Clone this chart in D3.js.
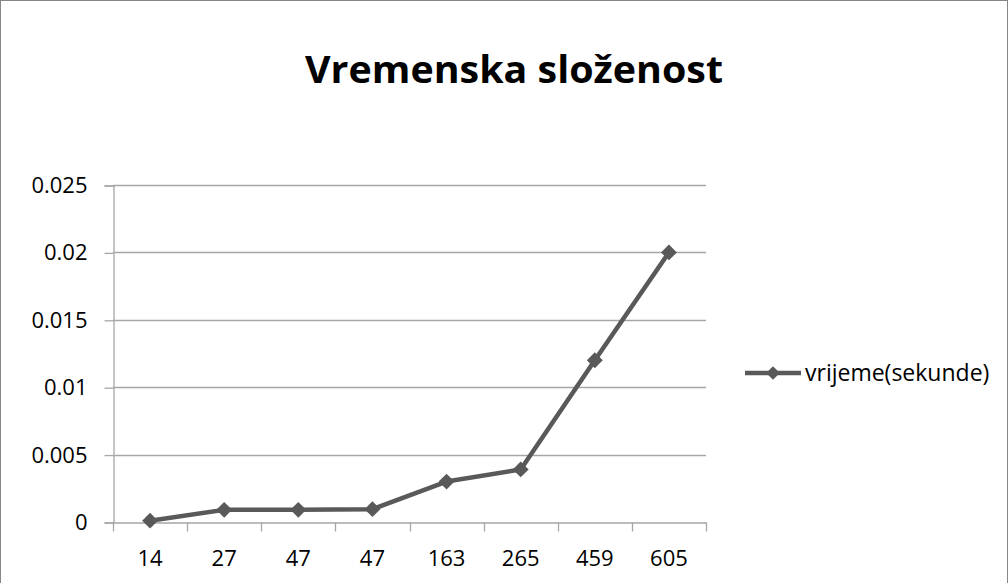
<!DOCTYPE html>
<html>
<head>
<meta charset="utf-8">
<script src="https://cdn.jsdelivr.net/npm/d3@7"></script>
<style>
  body { margin: 0; background: #fff; }
  svg { display: block; font-family: "Open Sans", "Noto Sans", sans-serif; }
</style>
</head>
<body>
<div id="chart"></div>
<script>
// chart data
const categories = ["14", "27", "47", "47 ", "163", "265", "459", "605"];
const labels = ["14", "27", "47", "47", "163", "265", "459", "605"];
const vrijeme = [0.0001, 0.0009, 0.0009, 0.00095, 0.003, 0.0039, 0.012, 0.02];
const yTicks = [0, 0.005, 0.01, 0.015, 0.02, 0.025];
const seriesName = "vrijeme(sekunde)";
const title = "Vremenska složenost";

const W = 1008, H = 583;
const margin = {top: 185, right: 302, bottom: 61, left: 113};
const lineColor = "#595959";
const gridColor = "#a6a6a6";
const fontSize = 22;

const svg = d3.select("#chart").append("svg")
  .attr("width", W)
  .attr("height", H);

// outer frame
svg.append("rect")
  .attr("x", 0.5).attr("y", 0.5)
  .attr("width", W - 1).attr("height", H)
  .attr("fill", "#fff")
  .attr("stroke", "#868686");

const x = d3.scaleBand()
  .domain(categories)
  .range([margin.left, W - margin.right]);

const y = d3.scaleLinear()
  .domain([0, 0.025])
  .range([H - margin.bottom, margin.top]);

// title
svg.append("text")
  .attr("x", 514)
  .attr("y", 83)
  .attr("text-anchor", "middle")
  .attr("font-size", 38)
  .attr("font-weight", "bold")
  .attr("fill", "#000")
  .attr("textLength", 418)
  .attr("lengthAdjust", "spacingAndGlyphs")
  .text(title);

// gridlines
svg.append("g")
  .selectAll("line")
  .data(yTicks.filter(d => d > 0))
  .join("line")
  .attr("x1", margin.left)
  .attr("x2", W - margin.right)
  .attr("y1", d => Math.round(y(d)) + 0.5)
  .attr("y2", d => Math.round(y(d)) + 0.5)
  .attr("stroke", gridColor)
  .attr("stroke-width", 1.3);

// y axis
const yAxis = d3.axisLeft(y)
  .tickValues(yTicks)
  .tickSize(9)
  .tickPadding(17)
  .tickFormat(d => d3.format("")(+d.toFixed(3)));

const gy = svg.append("g")
  .attr("transform", `translate(${margin.left + 0.5},0.5)`)
  .call(yAxis);
gy.select(".domain").attr("stroke", gridColor).attr("stroke-width", 1.3);
gy.selectAll(".tick line").attr("stroke", gridColor).attr("stroke-width", 1.3);
gy.selectAll(".tick text")
  .attr("font-size", fontSize)
  .attr("fill", "#000")
  .attr("font-family", "Open Sans, sans-serif");

// x axis
const xAxis = d3.axisBottom(x)
  .tickSize(0)
  .tickPadding(28)
  .tickFormat((d, i) => labels[i]);

const gx = svg.append("g")
  .attr("transform", `translate(0,${H - margin.bottom + 0.5})`)
  .call(xAxis);
gx.select(".domain").attr("stroke", gridColor).attr("stroke-width", 1.3);
gx.selectAll(".tick text")
  .attr("font-size", fontSize)
  .attr("fill", "#000")
  .attr("font-family", "Open Sans, sans-serif");

// category boundary ticks
const edges = categories.map(c => x(c)).concat([x.range()[1]]);
gx.append("g")
  .selectAll("line")
  .data(edges)
  .join("line")
  .attr("x1", d => Math.round(d) + 0.5)
  .attr("x2", d => Math.round(d) + 0.5)
  .attr("y1", 0)
  .attr("y2", 9)
  .attr("stroke", gridColor)
  .attr("stroke-width", 1.3);

// line
const line = d3.line()
  .x((d, i) => x(categories[i]) + x.bandwidth() / 2)
  .y(d => y(d));

svg.append("path")
  .datum(vrijeme)
  .attr("d", line)
  .attr("fill", "none")
  .attr("stroke", lineColor)
  .attr("stroke-width", 4.5)
  .attr("stroke-linejoin", "round");

// diamond markers
const diamond = d3.symbol().type(d3.symbolDiamond2).size(160);
svg.append("g")
  .selectAll("path")
  .data(vrijeme)
  .join("path")
  .attr("transform", (d, i) => `translate(${x(categories[i]) + x.bandwidth() / 2},${y(d)})`)
  .attr("d", diamond)
  .attr("fill", lineColor);

// legend
const lg = svg.append("g").attr("transform", "translate(745,373)");
lg.append("line")
  .attr("x1", 0).attr("x2", 56)
  .attr("y1", 0).attr("y2", 0)
  .attr("stroke", lineColor)
  .attr("stroke-width", 4.5);
lg.append("path")
  .attr("transform", "translate(28,0)")
  .attr("d", d3.symbol().type(d3.symbolDiamond2).size(120))
  .attr("fill", lineColor);
lg.append("text")
  .attr("x", 60)
  .attr("y", 8)
  .attr("font-size", 23)
  .attr("fill", "#000")
  .text(seriesName);
</script>
</body>
</html>
